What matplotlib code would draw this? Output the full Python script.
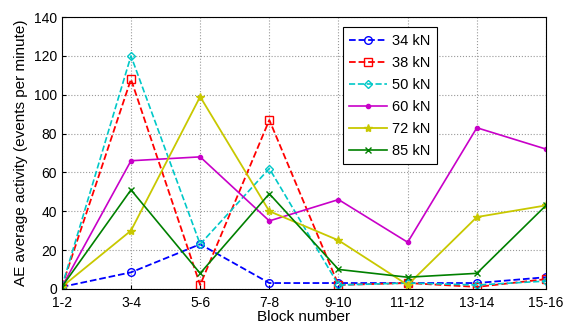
import matplotlib
matplotlib.use("Agg")
import matplotlib.pyplot as plt

plt.rcParams['font.family'] = ['Liberation Sans', 'DejaVu Sans']

# block labels and AE activity per load
blocks = ["1-2", "3-4", "5-6", "7-8", "9-10", "11-12", "13-14", "15-16"]
kn34 = [1, 8.5, 23, 3, 3, 3, 3, 6]
kn38 = [1, 108, 2, 87, 2, 3, 1, 5]
kn50 = [1, 120, 23, 62, 2, 3, 2, 4]
kn60 = [1, 66, 68, 35, 46, 24, 83, 72]
kn72 = [1, 30, 99, 40, 25, 2, 37, 43]
kn85 = [1, 51, 8, 49, 10, 6, 8, 43]

fig = plt.figure(figsize=(5.67, 3.29), dpi=100)
ax = fig.add_axes([0.109, 0.122, 0.854, 0.826])
x = range(len(blocks))

ax.plot(x, kn34, 'b--o', mfc='none', ms=5.5, lw=1.3, label='34 kN')
ax.plot(x, kn38, 'r--s', mfc='none', ms=5.5, lw=1.3, label='38 kN')
ax.plot(x, kn50, '--D', color='#00c8c8', mfc='none', ms=4.5, lw=1.2, label='50 kN')
ax.plot(x, kn60, color='#c800c8', ls='-', marker='.', ms=6, lw=1.2, label='60 kN')
ax.plot(x, kn72, '-*', color='#c8c800', ms=6, lw=1.3, label='72 kN')
ax.plot(x, kn85, '-x', color='#008000', ms=4.5, lw=1.2, label='85 kN')

ax.set_xlim(0, len(blocks) - 1)
ax.set_ylim(0, 140)
ax.set_xticks(list(x))
ax.set_xticklabels(blocks)
ax.set_yticks(range(0, 141, 20))
ax.tick_params(direction='in', labelsize=10, length=3)
ax.tick_params(axis='x', pad=5)
ax.grid(True, ls=':', color='#999999', lw=0.8)
ax.set_xlabel('Block number', fontsize=11, labelpad=0)
ax.set_ylabel('AE average activity (events per minute)', fontsize=11, labelpad=4)

leg = ax.legend(loc='upper left', bbox_to_anchor=(0.565, 0.99), fontsize=10.5,
                fancybox=False, edgecolor='black', framealpha=1,
                handlelength=2.6, borderpad=0.45, labelspacing=0.55, handletextpad=0.3)
leg.get_frame().set_linewidth(0.8)

fig.savefig('out.png', dpi=100)
